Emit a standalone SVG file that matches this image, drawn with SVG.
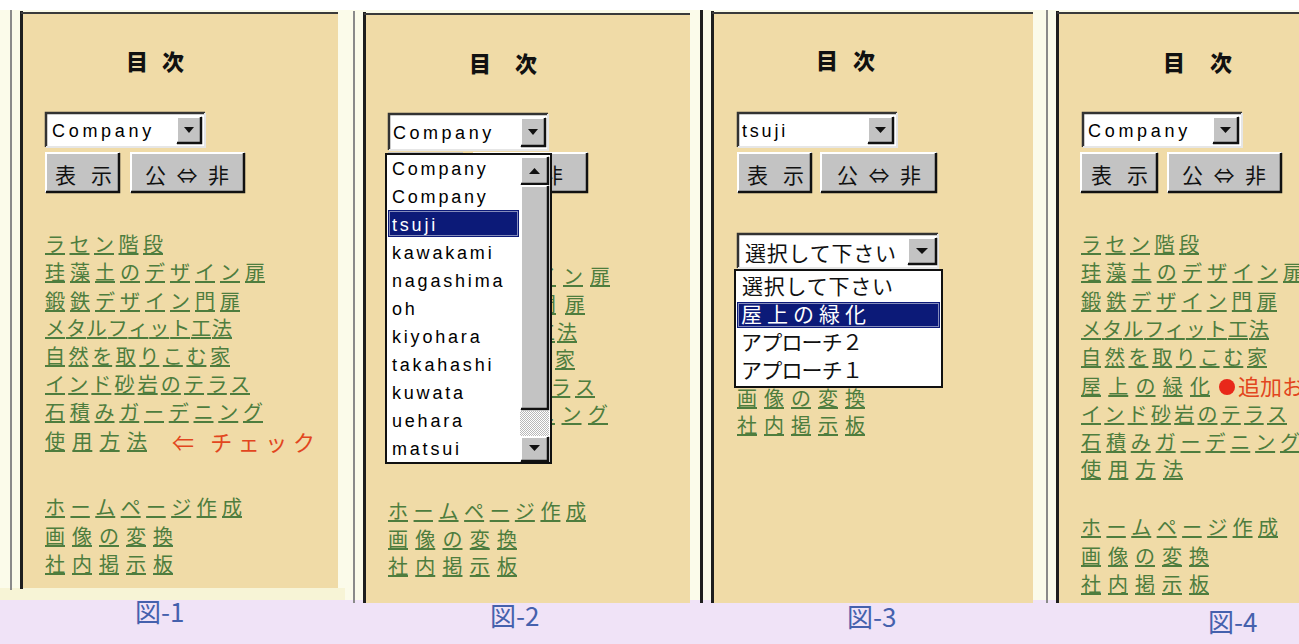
<svg xmlns="http://www.w3.org/2000/svg" width="1299" height="644" viewBox="0 0 1299 644">
<style>
.pfill{fill:#f0dba7}
.lnk{font-family:"Noto Sans CJK JP","Noto Sans CJK SC",sans-serif;font-size:20px;fill:#4e7d3e;text-decoration:underline}
.ttl{font-family:"Noto Sans CJK JP",sans-serif;font-size:22px;font-weight:900;fill:#111}
.lat{font-family:"Liberation Sans",sans-serif;font-size:18px;fill:#000;letter-spacing:2.8px}
.jp{font-family:"Noto Sans CJK JP",sans-serif;font-size:21px;fill:#111}
.wt{fill:#fff}
.btn{fill:#c3c3c3}
.hi{stroke:#fff;stroke-width:2;fill:none}
.lo{stroke:#111;stroke-width:2.5;fill:none}
.sunk{stroke:#333;stroke-width:2.5;fill:none}
.lite{stroke:#e6e6e6;stroke-width:2;fill:none}
.box{fill:#fff}
.list{fill:#fff;stroke:#111;stroke-width:2}
.hl{fill:#0c1a78}
.focus{fill:none;stroke:#fff;stroke-width:1;stroke-dasharray:1 1}
.cap{font-family:"Noto Sans CJK JP",sans-serif;font-size:26px;fill:#4561ad}
.red{font-family:"Noto Sans CJK JP",sans-serif;font-size:22px;fill:#e2461e}
.tri{fill:#111}
.edge1{fill:#8a8a8a}
.edge2{fill:#1e1e1e}
.top{stroke:#3a3a3a;stroke-width:2}
</style>
<defs>
<pattern id="dither" width="2" height="2" patternUnits="userSpaceOnUse">
<rect width="2" height="2" fill="#ffffff"/>
<rect width="1" height="1" fill="#b8b8b8"/>
<rect x="1" y="1" width="1" height="1" fill="#b8b8b8"/>
</pattern>
<clipPath id="clip2">
<rect x="552" y="240" width="140" height="200"/>
</clipPath>
<clipPath id="clip3">
<rect x="714" y="388" width="300" height="60"/>
</clipPath>
</defs>

<!-- background -->
<rect x="0" y="0" width="1299" height="644" fill="#fbfbea"/>
<rect x="0" y="0" width="1299" height="10" fill="#ffffff"/>
<rect x="0" y="588" width="345" height="12" fill="#f7f4d6"/>
<rect x="0" y="600" width="1299" height="44" fill="#f0e3f7"/>

<!-- Panel 1 -->
<g id="panel1">
<rect class="edge1" x="10" y="10" width="2" height="580"/>
<rect class="edge2" x="20" y="11" width="3" height="578"/>
<rect class="pfill" x="23" y="14" width="315" height="574"/>
<line class="top" x1="21" y1="13" x2="338" y2="13"/>
<text class="ttl" x="126" y="70">目</text>
<text class="ttl" x="162" y="70">次</text>
<rect class="box" x="45" y="112" width="160" height="35"/>
<polyline class="sunk" points="46,147 46,113 205,113"/>
<polyline class="lite" points="205,113 205,147 46,147"/>
<rect class="btn" x="176" y="116" width="26" height="28"/>
<polyline class="hi" points="177,143 177,117 201,117"/>
<polyline class="lo" points="201,117 201,143 177,143"/>
<polygon class="tri" points="184,127 194,127 189,133"/>
<text class="lat" x="52" y="137" textLength="102">Company</text>
<rect class="btn" x="45" y="152" width="75" height="41"/>
<polyline class="hi" points="46,192 46,153 119,153"/>
<polyline class="lo" points="119,153 119,192 46,192"/>
<text class="jp" x="55" y="183" font-size="24" textLength="57">表示</text>
<rect class="btn" x="130" y="152" width="115" height="41"/>
<polyline class="hi" points="131,192 131,153 244,153"/>
<polyline class="lo" points="244,153 244,192 131,192"/>
<text class="jp" x="145" y="183" font-size="24" textLength="84">公⇔非</text>
<text class="lnk" x="45" y="252" textLength="118">ラセン階段</text>
<text class="lnk" x="45" y="280" textLength="220">珪藻土のデザイン扉</text>
<text class="lnk" x="45" y="309" textLength="195">鍛鉄デザイン門扉</text>
<text class="lnk" x="45" y="336" textLength="187">メタルフィット工法</text>
<text class="lnk" x="45" y="364" textLength="185">自然を取りこむ家</text>
<text class="lnk" x="45" y="392" textLength="205">インド砂岩のテラス</text>
<text class="lnk" x="45" y="420" textLength="218">石積みガーデニング</text>
<text class="lnk" x="45" y="449" textLength="102">使用方法</text>
<text class="red" x="172" y="451" font-size="23" textLength="143">⇐ チェック</text>
<text class="lnk" x="45" y="515" textLength="197">ホームページ作成</text>
<text class="lnk" x="45" y="544" textLength="128">画像の変換</text>
<text class="lnk" x="45" y="572" textLength="128">社内掲示板</text>
</g>

<!-- Panel 2 -->
<g id="panel2">
<rect class="edge1" x="353" y="11" width="2" height="592"/>
<rect class="edge2" x="363" y="12" width="3" height="591"/>
<rect class="pfill" x="366" y="15" width="324" height="588"/>
<line class="top" x1="364" y1="14" x2="690" y2="14"/>
<text class="ttl" x="469" y="72" font-size="23">目</text>
<text class="ttl" x="515" y="72" font-size="23">次</text>
<rect class="box" x="388" y="113" width="160" height="37"/>
<polyline class="sunk" points="389,150 389,114 548,114"/>
<polyline class="lite" points="548,114 548,150 389,150"/>
<rect class="btn" x="520" y="117" width="26" height="30"/>
<polyline class="hi" points="521,146 521,118 545,118"/>
<polyline class="lo" points="545,118 545,146 521,146"/>
<polygon class="tri" points="528,129 538,129 533,135"/>
<text class="lat" x="393" y="139" textLength="101">Company</text>
<rect class="btn" x="388" y="152" width="75" height="41"/>
<rect class="btn" x="473" y="152" width="115" height="41"/>
<polyline class="hi" points="474,192 474,153 587,153"/>
<polyline class="lo" points="587,153 587,192 474,192"/>
<text class="jp" x="542" y="183" font-size="24">非</text>
<g clip-path="url(#clip2)">
<text class="lnk" x="536" y="284" textLength="74">イン扉</text>
<text class="lnk" x="536" y="312" textLength="49">門扉</text>
<text class="lnk" x="535" y="340" textLength="42">工法</text>
<text class="lnk" x="528" y="367" textLength="47">む家</text>
<text class="lnk" x="526" y="395" textLength="69">テラス</text>
<text class="lnk" x="535" y="422" textLength="73">ニング</text>
</g>
<text class="lnk" x="388" y="519" textLength="198">ホームページ作成</text>
<text class="lnk" x="388" y="547" textLength="129">画像の変換</text>
<text class="lnk" x="388" y="574" textLength="129">社内掲示板</text>
<!-- open dropdown list -->
<rect class="list" x="386" y="154" width="165" height="309"/>
<rect class="hl" x="388" y="210" width="131" height="27"/>
<rect class="focus" x="389.5" y="211.5" width="128" height="24"/>
<text class="lat" x="392" y="175">Company</text>
<text class="lat" x="392" y="203">Company</text>
<text class="lat wt" x="392" y="231">tsuji</text>
<text class="lat" x="392" y="259">kawakami</text>
<text class="lat" x="392" y="287">nagashima</text>
<text class="lat" x="392" y="315">oh</text>
<text class="lat" x="392" y="343">kiyohara</text>
<text class="lat" x="392" y="371">takahashi</text>
<text class="lat" x="392" y="399">kuwata</text>
<text class="lat" x="392" y="427">uehara</text>
<text class="lat" x="392" y="455">matsui</text>
<!-- scrollbar -->
<rect class="btn" x="520" y="156" width="29" height="29"/>
<polyline class="hi" points="521,184 521,157 548,157"/>
<polyline class="lo" points="548,157 548,184 521,184"/>
<polygon class="tri" points="529,174 540,174 534.5,168"/>
<rect class="btn" x="520" y="185" width="29" height="225"/>
<polyline class="hi" points="521,409 521,186 548,186"/>
<polyline class="lo" points="548,186 548,409 521,409"/>
<rect x="520" y="411" width="29" height="25" fill="url(#dither)"/>
<rect class="btn" x="520" y="436" width="29" height="26"/>
<polyline class="hi" points="521,461 521,437 548,437"/>
<polyline class="lo" points="548,437 548,461 521,461"/>
<polygon class="tri" points="529,445 540,445 534.5,451"/>
</g>

<!-- Panel 3 -->
<g id="panel3">
<rect class="edge2" x="700" y="10" width="3" height="593"/>
<rect class="edge2" x="711" y="11" width="3" height="592"/>
<rect class="pfill" x="714" y="14" width="319" height="589"/>
<line class="top" x1="712" y1="13" x2="1033" y2="13"/>
<text class="ttl" x="816" y="69">目</text>
<text class="ttl" x="853" y="69">次</text>
<rect class="box" x="737" y="112" width="160" height="35"/>
<polyline class="sunk" points="738,147 738,113 897,113"/>
<polyline class="lite" points="897,113 897,147 738,147"/>
<rect class="btn" x="867" y="116" width="27" height="28"/>
<polyline class="hi" points="868,143 868,117 893,117"/>
<polyline class="lo" points="893,117 893,143 868,143"/>
<polygon class="tri" points="875,127 886,127 880.5,133"/>
<text class="lat" x="742" y="137">tsuji</text>
<rect class="btn" x="737" y="152" width="75" height="41"/>
<polyline class="hi" points="738,192 738,153 811,153"/>
<polyline class="lo" points="811,153 811,192 738,192"/>
<text class="jp" x="747" y="183" font-size="24" textLength="57">表示</text>
<rect class="btn" x="820" y="152" width="117" height="41"/>
<polyline class="hi" points="821,192 821,153 936,153"/>
<polyline class="lo" points="936,153 936,192 821,192"/>
<text class="jp" x="837" y="183" font-size="24" textLength="84">公⇔非</text>
<rect class="box" x="737" y="233" width="201" height="35"/>
<polyline class="sunk" points="738,268 738,234 938,234"/>
<polyline class="lite" points="938,234 938,268 738,268"/>
<rect class="btn" x="907" y="237" width="30" height="28"/>
<polyline class="hi" points="908,264 908,238 936,238"/>
<polyline class="lo" points="936,238 936,264 908,264"/>
<polygon class="tri" points="916,248 928,248 922,254"/>
<text class="jp" x="745" y="261" font-size="21" textLength="151">選択して下さい</text>
<g clip-path="url(#clip3)">
<text class="lnk" x="737" y="406" font-size="18" textLength="128">画像の変換</text>
</g>
<text class="lnk" x="737" y="433" textLength="128">社内掲示板</text>
<rect class="list" x="735" y="270" width="207" height="117"/>
<rect class="hl" x="737" y="302" width="203" height="26"/>
<rect class="focus" x="738.5" y="303.5" width="200" height="23"/>
<text class="jp" x="742" y="294" font-size="19" textLength="151">選択して下さい</text>
<text class="jp wt" x="741" y="322" font-size="19" textLength="125">屋上の緑化</text>
<text class="jp" x="741" y="350" font-size="19" textLength="122">アプローチ２</text>
<text class="jp" x="741" y="378" font-size="19" textLength="122">アプローチ１</text>
</g>

<!-- Panel 4 -->
<g id="panel4">
<rect class="edge1" x="1046" y="10" width="2" height="593"/>
<rect class="edge2" x="1056" y="11" width="3" height="592"/>
<rect class="pfill" x="1059" y="14" width="240" height="589"/>
<line class="top" x1="1057" y1="13" x2="1299" y2="13"/>
<text class="ttl" x="1163" y="71">目</text>
<text class="ttl" x="1210" y="71" font-size="24">次</text>
<rect class="box" x="1082" y="112" width="160" height="35"/>
<polyline class="sunk" points="1083,147 1083,113 1242,113"/>
<polyline class="lite" points="1242,113 1242,147 1083,147"/>
<rect class="btn" x="1212" y="116" width="27" height="28"/>
<polyline class="hi" points="1213,143 1213,117 1238,117"/>
<polyline class="lo" points="1238,117 1238,143 1213,143"/>
<polygon class="tri" points="1220,127 1231,127 1225.5,133"/>
<text class="lat" x="1088" y="137" textLength="102">Company</text>
<rect class="btn" x="1080" y="152" width="78" height="41"/>
<polyline class="hi" points="1081,192 1081,153 1157,153"/>
<polyline class="lo" points="1157,153 1157,192 1081,192"/>
<text class="jp" x="1091" y="183" font-size="24" textLength="57">表示</text>
<rect class="btn" x="1167" y="152" width="115" height="41"/>
<polyline class="hi" points="1168,192 1168,153 1281,153"/>
<polyline class="lo" points="1281,153 1281,192 1168,192"/>
<text class="jp" x="1182" y="183" font-size="24" textLength="84">公⇔非</text>
<text class="lnk" x="1081" y="252" textLength="118">ラセン階段</text>
<text class="lnk" x="1081" y="280" textLength="222">珪藻土のデザイン扉</text>
<text class="lnk" x="1081" y="309" textLength="196">鍛鉄デザイン門扉</text>
<text class="lnk" x="1081" y="337" textLength="188">メタルフィット工法</text>
<text class="lnk" x="1081" y="365" textLength="186">自然を取りこむ家</text>
<text class="lnk" x="1081" y="394" textLength="129">屋上の緑化</text>
<circle cx="1227" cy="387" r="8" fill="#e8281a"/>
<text class="red" x="1238" y="395" font-size="22" textLength="66">追加お</text>
<text class="lnk" x="1081" y="422" textLength="206">インド砂岩のテラス</text>
<text class="lnk" x="1081" y="450" textLength="219">石積みガーデニング</text>
<text class="lnk" x="1081" y="477" textLength="102">使用方法</text>
<text class="lnk" x="1081" y="535" textLength="197">ホームページ作成</text>
<text class="lnk" x="1081" y="564" textLength="128">画像の変換</text>
<text class="lnk" x="1081" y="592" textLength="128">社内掲示板</text>
</g>

<!-- captions -->
<g id="captions">
<text class="cap" x="135" y="622">図-1</text>
<text class="cap" x="490" y="626">図-2</text>
<text class="cap" x="847" y="627">図-3</text>
<text class="cap" x="1208" y="632">図-4</text>
</g>
</svg>
